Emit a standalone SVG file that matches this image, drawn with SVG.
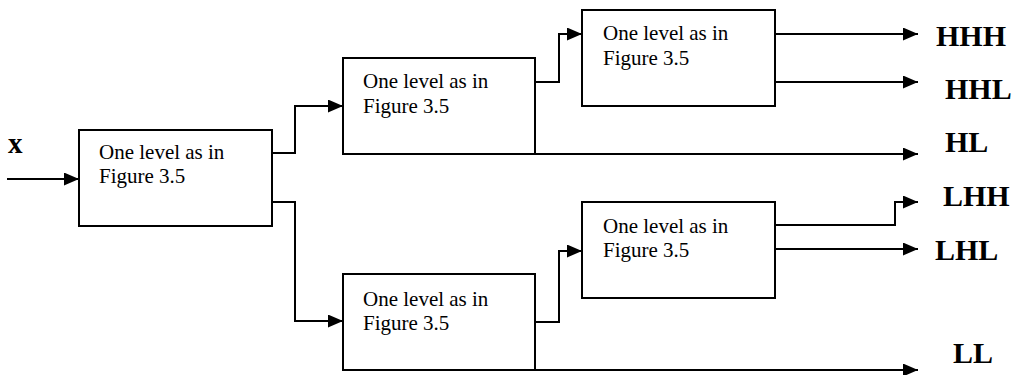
<svg xmlns="http://www.w3.org/2000/svg" width="1019" height="375" viewBox="0 0 1019 375">
  <style>
    .box { fill: #fff; stroke: #000; stroke-width: 2; }
    .body { font-family: "Liberation Serif", "Times New Roman", serif; font-size: 21px; fill: #000; }
    .band { font-family: "Liberation Serif", "Times New Roman", serif; font-size: 30px; font-weight: bold; fill: #000; }
    .wire { fill: none; stroke: #000; stroke-width: 2; marker-end: url(#head); }
  </style>
  <defs>
    <marker id="head" markerUnits="userSpaceOnUse" markerWidth="16" markerHeight="14" refX="15" refY="6.5" orient="auto">
      <path d="M0,0 L15,6.5 L0,13 Z" fill="#000"/>
    </marker>
  </defs>
  <rect width="1019" height="375" fill="#fff"/>

  <!-- filter bank stages -->
  <g id="stage1">
    <rect class="box" x="79" y="130" width="193" height="96"/>
    <text class="body" x="99" y="159">One level as in</text>
    <text class="body" x="99" y="183">Figure 3.5</text>
  </g>
  <g id="stage2-high">
    <rect class="box" x="343" y="58" width="192" height="96"/>
    <text class="body" x="363" y="87.5">One level as in</text>
    <text class="body" x="363" y="112.5">Figure 3.5</text>
  </g>
  <g id="stage3-high">
    <rect class="box" x="582" y="10" width="193" height="96"/>
    <text class="body" x="603" y="40">One level as in</text>
    <text class="body" x="603" y="65">Figure 3.5</text>
  </g>
  <g id="stage2-low">
    <rect class="box" x="343" y="274" width="192" height="96"/>
    <text class="body" x="363" y="306">One level as in</text>
    <text class="body" x="363" y="330">Figure 3.5</text>
  </g>
  <g id="stage3-low">
    <rect class="box" x="582" y="202" width="193" height="96"/>
    <text class="body" x="603" y="233">One level as in</text>
    <text class="body" x="603" y="257">Figure 3.5</text>
  </g>

  <!-- signal paths -->
  <g id="connectors">
    <path class="wire" d="M7,179 H79"/>
    <path class="wire" d="M272,153 H295 V106 H343"/>
    <path class="wire" d="M272,202 H295 V321 H343"/>
    <path class="wire" d="M535,82 H559 V34 H582"/>
    <path class="wire" d="M343,154 H918"/>
    <path class="wire" d="M775,34 H918"/>
    <path class="wire" d="M775,82 H918"/>
    <path class="wire" d="M535,322 H559 V251 H582"/>
    <path class="wire" d="M343,370 H918"/>
    <path class="wire" d="M775,225 H895 V202 H918"/>
    <path class="wire" d="M775,249 H918"/>
  </g>

  <!-- input and subband labels -->
  <g id="labels">
    <text class="band" x="8" y="153" style="font-size:29px">x</text>
    <text class="band" x="936" y="46">HHH</text>
    <text class="band" x="945" y="99">HHL</text>
    <text class="band" x="945" y="152">HL</text>
    <text class="band" x="943" y="206">LHH</text>
    <text class="band" x="935" y="260">LHL</text>
    <text class="band" x="953" y="363">LL</text>
  </g>
</svg>
